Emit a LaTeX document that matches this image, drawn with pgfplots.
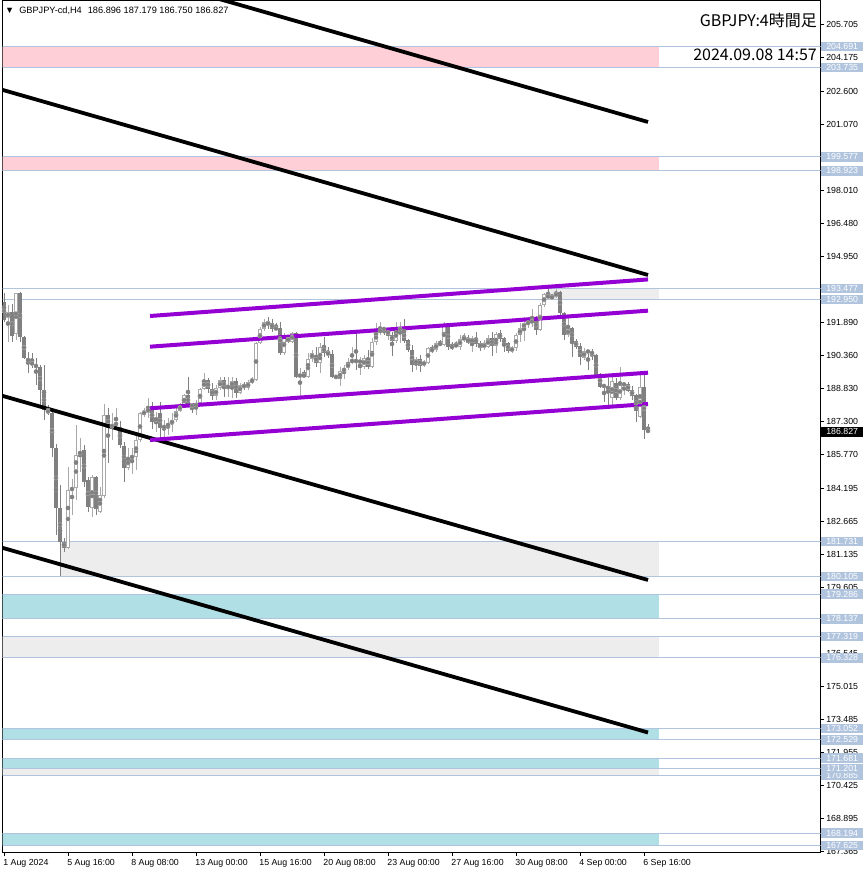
\documentclass[border=0pt]{standalone}
\usepackage{pgfplots}
\pgfplotsset{compat=1.18}
\usepackage{pgfplotstable}
\usepackage{fontspec}
\setmainfont{Liberation Sans}
\newfontfamily\jp{Noto Sans CJK JP}
\definecolor{lsb}{HTML}{B0C4DE}
\definecolor{pinkz}{HTML}{FFCFD7}
\definecolor{cyanz}{HTML}{B0E0E6}
\definecolor{grayz}{HTML}{EDEDED}
\definecolor{bearc}{HTML}{808080}
\definecolor{bullc}{HTML}{A9A9A9}
\definecolor{dviolet}{HTML}{9400D3}
\newcommand{\nrm}[1]{\makebox[41.5pt][c]{#1}}
\newcommand{\lvl}[1]{{\setlength{\fboxsep}{0pt}\colorbox{lsb}{\parbox[c][9.5pt][c]{41.5pt}{\centering\textcolor{white}{#1}}}}}
\newcommand{\cur}[1]{{\setlength{\fboxsep}{0pt}\colorbox{black}{\parbox[c][10pt][c]{41.5pt}{\centering\textcolor{white}{#1}}}}}

\pgfplotstableread{
i o h l c
0 192.84 193.26 191.92 192.01
1 192.10 192.70 190.99 192.38
2 192.38 192.75 190.99 191.27
3 191.36 193.26 191.08 193.24
4 193.24 193.31 190.99 191.22
5 191.22 191.27 190.20 190.24
6 190.24 190.52 189.55 190.06
7 190.06 190.48 189.78 189.92
8 189.92 190.24 188.99 189.83
9 189.83 189.92 188.06 188.76
10 188.76 189.92 187.37 187.83
11 187.83 188.06 187.60 187.69
12 187.69 187.92 185.65 186.07
13 186.07 186.25 182.03 183.29
14 183.29 184.35 180.11 181.71
15 181.71 181.89 181.24 181.43
16 181.43 185.19 181.38 184.12
17 184.12 184.63 182.96 184.21
18 184.21 187.13 183.66 185.74
19 185.74 186.53 184.95 185.93
20 185.97 186.21 184.26 184.49
21 184.58 184.72 183.10 183.33
22 183.29 184.81 182.87 184.72
23 184.72 184.76 182.96 183.24
24 183.10 184.26 183.05 183.89
25 183.84 188.11 183.75 187.60
26 187.60 187.92 185.37 187.00
27 187.00 187.69 186.44 187.18
28 187.09 187.92 186.90 187.28
29 187.04 187.32 186.07 186.21
30 186.16 186.35 184.49 185.14
31 185.14 186.07 185.05 185.60
32 185.60 186.07 184.86 185.70
33 185.65 186.81 185.05 186.44
34 186.44 187.74 186.35 187.69
35 187.65 187.92 187.51 187.74
36 187.69 188.39 187.46 187.97
37 187.92 188.20 186.97 187.28
38 187.28 187.74 186.81 187.51
39 187.69 188.20 186.53 187.00
40 187.00 187.37 186.58 187.09
41 187.04 187.46 186.67 187.23
42 187.18 187.69 186.81 187.37
43 187.37 187.97 187.28 187.79
44 187.79 188.16 187.74 188.06
45 188.06 188.57 187.92 188.53
46 188.53 189.36 187.97 188.06
47 188.06 188.16 187.69 188.02
48 188.02 188.30 187.60 188.11
49 188.16 188.85 188.06 188.81
50 188.81 189.55 188.76 189.22
51 189.22 189.32 188.62 188.81
52 188.81 189.09 188.30 188.48
53 188.48 188.99 188.30 188.85
54 188.85 189.36 188.76 189.22
55 189.22 189.36 188.43 188.85
56 188.90 189.36 188.43 188.91
57 188.90 189.36 188.39 189.18
58 189.18 189.32 188.39 188.62
59 188.62 189.09 188.57 188.99
60 189.04 189.13 188.76 188.85
61 188.85 189.22 188.76 189.13
62 189.09 189.36 189.04 189.27
63 189.22 190.99 189.18 190.94
64 190.94 191.68 190.90 191.59
65 191.59 192.05 191.50 191.92
66 191.87 192.15 191.59 191.82
67 191.87 192.05 191.45 191.59
68 191.64 191.87 191.54 191.59
69 191.64 191.92 190.38 190.48
70 190.48 191.41 190.38 191.22
71 191.22 191.31 190.94 190.99
72 190.99 191.45 190.94 191.41
73 191.41 191.45 189.32 189.36
74 189.36 189.78 188.43 189.50
75 189.50 189.69 189.32 189.36
76 189.36 190.48 189.32 190.20
77 190.20 190.62 190.06 190.48
78 190.34 190.76 189.83 190.01
79 190.01 190.94 189.55 190.76
80 190.76 191.22 190.29 190.48
81 190.52 190.76 190.24 190.38
82 190.43 190.62 189.32 189.37
83 189.41 189.46 189.27 189.32
84 189.27 189.83 188.95 189.64
85 189.60 189.92 189.27 189.78
86 189.78 190.24 189.69 190.01
87 190.01 190.76 189.97 190.20
88 190.20 191.41 189.69 190.01
89 190.01 190.29 189.46 190.15
90 189.83 190.38 189.74 190.24
91 190.24 190.62 189.74 189.83
92 189.83 191.17 189.78 190.99
93 190.99 191.87 190.85 191.41
94 191.41 191.92 191.31 191.59
95 191.64 191.68 191.31 191.54
96 191.31 191.64 191.08 191.54
97 191.31 191.45 190.34 191.03
98 191.03 191.92 190.94 191.54
99 191.54 191.92 190.94 191.64
100 191.54 192.05 190.94 191.03
101 191.08 191.13 190.52 190.62
102 190.62 190.85 189.60 189.92
103 189.92 190.29 189.69 190.20
104 190.20 190.38 189.60 189.88
105 189.92 190.15 189.83 190.06
106 190.01 190.76 189.97 190.71
107 190.71 190.85 190.48 190.52
108 190.62 191.03 190.52 190.94
109 190.94 191.08 190.80 190.85
110 190.85 191.92 190.80 191.78
111 191.73 191.87 190.62 190.76
112 190.80 190.99 190.62 190.71
113 190.76 191.03 190.71 190.90
114 190.76 191.31 190.62 191.13
115 191.13 191.41 190.99 191.17
116 191.17 191.31 190.90 190.94
117 190.94 191.27 190.52 191.17
118 191.17 191.45 190.76 190.90
119 190.94 191.03 190.57 190.71
120 190.71 191.08 190.62 190.94
121 190.76 191.31 190.71 191.17
122 191.17 191.45 190.34 190.80
123 190.80 191.45 190.48 191.36
124 191.41 191.54 190.99 191.13
125 191.17 191.22 190.52 190.90
126 190.94 190.99 190.48 190.57
127 190.57 190.80 190.48 190.71
128 190.71 191.41 190.57 191.31
129 191.31 191.87 190.99 191.64
130 191.64 192.15 191.03 191.87
131 191.82 192.15 191.64 191.92
132 191.87 192.52 191.68 192.01
133 192.01 192.19 191.31 191.54
134 191.54 192.80 191.50 192.70
135 192.70 193.26 192.61 193.22
136 193.17 193.45 192.98 193.03
137 193.03 193.22 192.98 193.08
138 193.08 193.45 193.03 193.31
139 193.31 193.36 192.15 192.33
140 192.33 192.38 191.08 191.31
141 191.31 192.15 191.22 191.59
142 191.64 191.68 190.29 190.99
143 191.03 191.13 190.66 190.76
144 190.80 190.94 189.92 190.29
145 190.24 190.71 190.15 190.57
146 190.57 190.66 189.69 190.52
147 190.57 190.66 190.15 190.38
148 190.38 190.43 189.36 189.46
149 189.50 189.55 188.85 188.90
150 188.99 189.04 188.20 188.90
151 188.95 189.32 188.06 188.76
152 188.39 189.46 187.92 189.18
153 189.09 189.32 188.30 188.39
154 188.39 189.83 188.30 188.99
155 188.95 189.13 188.53 189.09
156 189.04 189.13 188.67 188.71
157 188.76 188.95 188.30 188.48
158 188.53 188.57 187.28 187.79
159 187.51 189.46 187.46 188.90
160 188.90 189.46 186.48 186.90
161 186.896 187.179 186.750 186.827
}\candles

\begin{document}
\begin{tikzpicture}
\path[use as bounding box, fill=white] (0pt,0pt) rectangle (866pt,874pt);
\begin{axis}[
  at={(2.5pt,21.3pt)}, anchor=south west,
  scale only axis, width=818pt, height=852.2pt,
  xmin=-0.375, xmax=204.125, ymin=167.288, ymax=206.834,
  axis line style={line width=1pt},
  tick align=outside, major tick length=3.5pt,
  tick style={black, line width=0.8pt},
  xtick pos=bottom, ytick pos=right, yticklabel pos=right,
  scaled y ticks=false,
  tick label style={font=\fontsize{8.8}{10}\selectfont},
  yticklabel style={anchor=west, inner sep=0pt, xshift=-2.8pt},
  xticklabel style={anchor=north west, inner sep=0pt, xshift=-0.8pt, yshift=-2.5pt},
  xtick={0,16,32,48,64,80,96,112,128,144,160},
  xticklabels={1 Aug 2024,5 Aug 16:00,8 Aug 08:00,13 Aug 00:00,15 Aug 16:00,20 Aug 08:00,23 Aug 00:00,27 Aug 16:00,30 Aug 08:00,4 Sep 00:00,6 Sep 16:00},
  ytick={205.705,204.175,202.600,201.070,198.010,196.480,194.950,191.890,190.360,188.830,187.300,185.770,184.195,182.665,181.135,179.605,176.545,175.015,173.485,171.955,170.425,168.895,167.365},
  yticklabels={\nrm{205.705},\nrm{204.175},\nrm{202.600},\nrm{201.070},\nrm{198.010},\nrm{196.480},\nrm{194.950},\nrm{191.890},\nrm{190.360},\nrm{188.830},\nrm{187.300},\nrm{185.770},\nrm{184.195},\nrm{182.665},\nrm{181.135},\nrm{179.605},\nrm{176.545},\nrm{175.015},\nrm{173.485},\nrm{171.955},\nrm{170.425},\nrm{168.895},\nrm{167.365}},
  extra y ticks={204.691,203.735,199.577,198.923,193.477,192.950,181.731,180.105,179.286,178.137,177.319,176.328,173.052,172.529,170.885,171.681,171.201,168.194,167.625,186.827},
  extra y tick labels={\lvl{204.691},\lvl{203.735},\lvl{199.577},\lvl{198.923},\lvl{193.477},\lvl{192.950},\lvl{181.731},\lvl{180.105},\lvl{179.286},\lvl{178.137},\lvl{177.319},\lvl{176.328},\lvl{173.052},\lvl{172.529},\lvl{170.885},\lvl{171.681},\lvl{171.201},\lvl{168.194},\lvl{167.625},\cur{186.827}},
]
% zones
\addplot[fill=pinkz, draw=none, forget plot] coordinates {(-1,204.691) (163.75,204.691) (163.75,203.735) (-1,203.735)} -- cycle;
\addplot[fill=pinkz, draw=none, forget plot] coordinates {(-1,199.577) (163.75,199.577) (163.75,198.923) (-1,198.923)} -- cycle;
\addplot[fill=grayz, draw=none, forget plot] coordinates {(135.7,193.477) (163.75,193.477) (163.75,192.950) (135.7,192.950)} -- cycle;
\addplot[fill=grayz, draw=none, forget plot] coordinates {(14,181.731) (163.75,181.731) (163.75,180.105) (14,180.105)} -- cycle;
\addplot[fill=cyanz, draw=none, forget plot] coordinates {(-1,179.286) (163.75,179.286) (163.75,178.137) (-1,178.137)} -- cycle;
\addplot[fill=grayz, draw=none, forget plot] coordinates {(-1,177.319) (163.75,177.319) (163.75,176.328) (-1,176.328)} -- cycle;
\addplot[fill=cyanz, draw=none, forget plot] coordinates {(-1,173.052) (163.75,173.052) (163.75,172.529) (-1,172.529)} -- cycle;
\addplot[fill=cyanz, draw=none, forget plot] coordinates {(-1,171.681) (163.75,171.681) (163.75,171.201) (-1,171.201)} -- cycle;
\addplot[fill=grayz, draw=none, forget plot] coordinates {(-1,171.201) (163.75,171.201) (163.75,170.885) (-1,170.885)} -- cycle;
\addplot[fill=cyanz, draw=none, forget plot] coordinates {(-1,168.194) (163.75,168.194) (163.75,167.625) (-1,167.625)} -- cycle;
% level lines
\pgfplotsinvokeforeach{204.691,203.735,199.577,198.923,193.477,192.950,181.731,180.105,179.286,178.137,177.319,176.328,173.052,172.529,171.681,171.201,170.885,168.194,167.625}{
  \addplot[lsb, line width=1pt, forget plot] coordinates {(-1,#1) (210,#1)};
}
% bull wicks
\addplot[bullc, only marks, mark=none, forget plot,
  error bars/.cd, y dir=both, y explicit, error mark=none,
  error bar style={line width=1pt, bullc}]
  table[x=i, y expr={(\thisrow{h}+\thisrow{l})/2},
        y error expr={(\thisrow{c}<\thisrow{o}) ? 0 : ((\thisrow{h}-\thisrow{l})/2)}] {\candles};
% bear wicks
\addplot[bearc, only marks, mark=none, forget plot,
  error bars/.cd, y dir=both, y explicit, error mark=none,
  error bar style={line width=1pt, bearc}]
  table[x=i, y expr={(\thisrow{h}+\thisrow{l})/2},
        y error expr={(\thisrow{c}<\thisrow{o}) ? ((\thisrow{h}-\thisrow{l})/2) : 0}] {\candles};
% bull bodies outer
\addplot[bullc, only marks, mark=none, forget plot,
  error bars/.cd, y dir=both, y explicit, error mark=none,
  error bar style={line width=3.2pt, bullc}]
  table[x=i, y expr={(\thisrow{o}+\thisrow{c})/2},
        y error expr={(\thisrow{c}<\thisrow{o}) ? 0 : max((\thisrow{c}-\thisrow{o})/2,0.02)}] {\candles};
% bull bodies inner
\addplot[white, only marks, mark=none, forget plot,
  error bars/.cd, y dir=both, y explicit, error mark=none,
  error bar style={line width=1.2pt, white}]
  table[x=i, y expr={(\thisrow{o}+\thisrow{c})/2},
        y error expr={(\thisrow{c}<\thisrow{o}) ? 0 : max((\thisrow{c}-\thisrow{o})/2-0.046,0)}] {\candles};
% bear bodies
\addplot[bearc, only marks, mark=none, forget plot,
  error bars/.cd, y dir=both, y explicit, error mark=none,
  error bar style={line width=3.2pt, bearc}]
  table[x=i, y expr={(\thisrow{o}+\thisrow{c})/2},
        y error expr={(\thisrow{c}<\thisrow{o}) ? max((\thisrow{o}-\thisrow{c})/2,0.02) : 0}] {\candles};
% black trend lines
\addplot[black, line width=3.8pt, forget plot] coordinates {(-0.5,209.793) (161,201.196)};
\addplot[black, line width=3.8pt, forget plot] coordinates {(-0.5,202.693) (161,194.096)};
\addplot[black, line width=3.8pt, forget plot] coordinates {(-0.5,188.494) (161,179.943)};
\addplot[black, line width=3.8pt, forget plot] coordinates {(-0.5,181.442) (161,172.866)};
% purple channel
\addplot[dviolet, line width=4pt, forget plot] coordinates {(36.5,192.193) (161,193.890)};
\addplot[dviolet, line width=4pt, forget plot] coordinates {(36.5,190.769) (161,192.440)};
\addplot[dviolet, line width=4pt, forget plot] coordinates {(36.5,187.910) (161,189.562)};
\addplot[dviolet, line width=4pt, forget plot] coordinates {(36.5,186.440) (161,188.110)};
\end{axis}
\node[anchor=west, inner sep=0pt, font=\fontsize{9.2}{10}\selectfont] at (5pt,863.3pt) {▼\hspace{5pt}GBPJPY-cd,H4\hspace{6pt}186.896 187.179 186.750 186.827};
\node[anchor=base east, inner sep=0pt, font=\jp\fontsize{16}{18}\selectfont] at (817pt,847.3pt) {GBPJPY:4時間足};
\node[anchor=base east, inner sep=0pt, font=\jp\fontsize{16}{18}\selectfont] at (817pt,813pt) {2024.09.08 14:57};
\end{tikzpicture}
\end{document}
